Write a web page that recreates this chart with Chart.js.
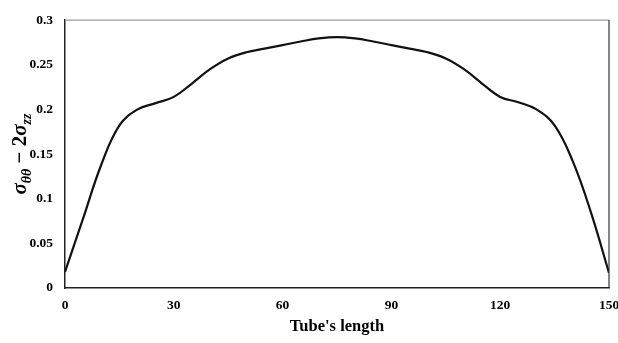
<!DOCTYPE html>
<html lang="en">
<head>
    <meta charset="UTF-8">
    <title>Tube's length</title>
    <script src="https://cdn.jsdelivr.net/npm/chart.js"></script>
    <style>
        html, body {
            margin: 0;
            padding: 0;
            background-color: white;
        }
        .chart-container {
            width: 618px;
            height: 343px;
        }
    </style>
</head>
<body>
    <div class="chart-container">
        <canvas id="stressChart"></canvas>
    </div>

    <script>
        // values
        const positions = [0, 5, 10, 15, 20, 25, 30, 35, 40, 45, 50, 55, 60, 65, 70, 75,
                           80, 85, 90, 95, 100, 105, 110, 115, 120, 125, 130, 135, 140, 145, 150];
        const stress = [0.018, 0.078, 0.138, 0.182, 0.200, 0.207, 0.214, 0.229, 0.245, 0.257, 0.264, 0.268, 0.272, 0.276, 0.2795, 0.281,
                        0.2795, 0.276, 0.272, 0.268, 0.264, 0.257, 0.245, 0.229, 0.214, 0.208, 0.200, 0.182, 0.142, 0.085, 0.017];
        const xTicks = [0, 30, 60, 90, 120, 150];
        const yTicks = [0, 0.05, 0.1, 0.15, 0.2, 0.25, 0.3];

        const tickFont = { family: '"Liberation Serif", "Times New Roman", serif', size: 13.5, weight: 'bold' };

        // top and right edges of the plot frame
        const framePlugin = {
            id: 'frame',
            afterDraw(chart) {
                const { ctx, chartArea: a } = chart;
                ctx.save();
                ctx.lineWidth = 1.2;
                ctx.strokeStyle = '#9a9a9a';
                ctx.beginPath();
                ctx.moveTo(a.left, a.top);
                ctx.lineTo(a.right, a.top);
                ctx.stroke();
                ctx.strokeStyle = '#333';
                ctx.beginPath();
                ctx.moveTo(a.right, a.top);
                ctx.lineTo(a.right, a.bottom);
                ctx.stroke();
                ctx.restore();
            }
        };

        // y axis title with subscripts: σθθ − 2σzz
        const yTitlePlugin = {
            id: 'yTitle',
            afterDraw(chart) {
                const { ctx, chartArea: a } = chart;
                const fam = '"Liberation Serif", "Times New Roman", serif';
                const parts = [
                    { t: 'σ', size: 21, dy: 0 },
                    { t: 'θθ', size: 14, dy: 5 },
                    { t: ' − 2', size: 21, dy: 0 },
                    { t: 'σ', size: 21, dy: 0 },
                    { t: 'zz', size: 14, dy: 5 }
                ];
                ctx.save();
                let total = 0;
                parts.forEach(p => {
                    ctx.font = (p.t === ' − 2' ? 'bold ' : 'italic bold ') + p.size + 'px ' + fam;
                    p.w = ctx.measureText(p.t).width;
                    total += p.w;
                });
                ctx.translate(26, (a.top + a.bottom) / 2);
                ctx.rotate(-Math.PI / 2);
                ctx.fillStyle = '#000';
                ctx.textBaseline = 'alphabetic';
                let x = -total / 2;
                parts.forEach(p => {
                    ctx.font = (p.t === ' − 2' ? 'bold ' : 'italic bold ') + p.size + 'px ' + fam;
                    ctx.fillText(p.t, x, p.dy);
                    x += p.w;
                });
                ctx.restore();
            }
        };

        const ctx = document.getElementById('stressChart').getContext('2d');
        new Chart(ctx, {
            type: 'scatter',
            data: {
                datasets: [{
                    data: positions.map((p, i) => ({ x: p, y: stress[i] })),
                    showLine: true,
                    borderColor: '#111',
                    borderWidth: 2.2,
                    pointRadius: 0,
                    tension: 0.4
                }]
            },
            options: {
                responsive: true,
                maintainAspectRatio: false,
                animation: false,
                layout: { padding: { top: 12, right: 0, left: 0, bottom: 0 } },
                plugins: {
                    legend: { display: false },
                    tooltip: { enabled: false }
                },
                scales: {
                    x: {
                        type: 'linear',
                        min: 0,
                        max: 150,
                        afterBuildTicks: s => { s.ticks = xTicks.map(v => ({ value: v })); },
                        afterFit: s => { s.height = 55; s.paddingRight = 9; },
                        grid: { display: false, drawTicks: false },
                        border: { display: true, color: '#222', width: 1.5 },
                        ticks: { color: '#000', font: tickFont, padding: 9, maxRotation: 0 },
                        title: {
                            display: true,
                            text: "Tube's length",
                            color: '#000',
                            font: { family: tickFont.family, size: 16.5, weight: 'bold' },
                            padding: { top: 0, bottom: 6 }
                        }
                    },
                    y: {
                        min: 0,
                        max: 0.3,
                        afterBuildTicks: s => { s.ticks = yTicks.map(v => ({ value: v })); },
                        afterFit: s => { s.width = 65; },
                        grid: { display: false, drawTicks: false },
                        border: { display: true, color: '#222', width: 1.5 },
                        ticks: { color: '#000', font: tickFont, padding: 12, callback: v => String(v) }
                    }
                }
            },
            plugins: [framePlugin, yTitlePlugin]
        });
    </script>
</body>
</html>
